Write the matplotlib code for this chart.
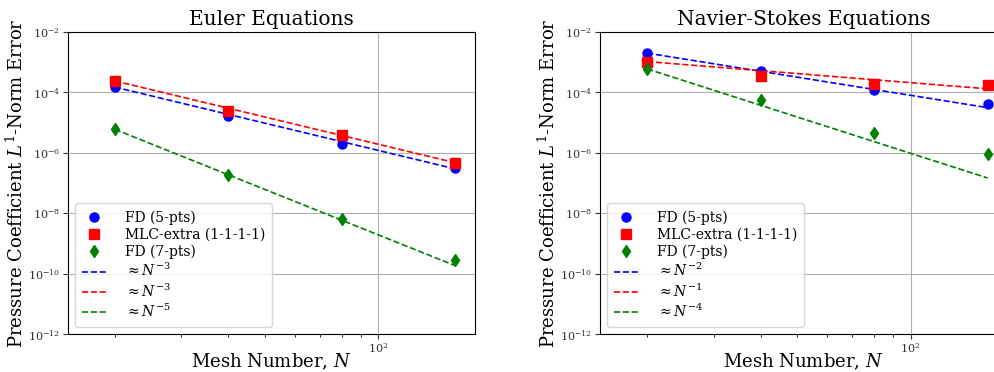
import numpy as np
import matplotlib
matplotlib.use("Agg")
import matplotlib.pyplot as plt
from matplotlib.ticker import NullLocator

plt.rcParams["font.family"] = "DejaVu Serif"
plt.rcParams["mathtext.fontset"] = "dejavuserif"

N = np.array([20, 40, 80, 160])

# Euler equations
eu_fd5 = [1.5e-4, 1.6e-5, 2.0e-6, 3.2e-7]
eu_mlc = [2.4e-4, 2.5e-5, 3.8e-6, 4.6e-7]
eu_fd7 = [6.0e-6, 1.9e-7, 6.5e-9, 2.8e-10]
eu_rates = [3, 3, 5]

# Navier-Stokes equations
ns_fd5 = [2.0e-3, 5.0e-4, 1.2e-4, 4.0e-5]
ns_mlc = [1.05e-3, 3.5e-4, 1.9e-4, 1.8e-4]
ns_fd7 = [6.0e-4, 5.5e-5, 4.5e-6, 9.0e-7]
ns_rates = [2, 1, 4]

titles = ["Euler Equations", "Navier-Stokes Equations"]
labels = ["FD (5-pts)", "MLC-extra (1-1-1-1)", "FD (7-pts)"]
colors = ["blue", "red", "green"]
markers = ["o", "s", "d"]


def panel(ax, series, rates, title):
    for y, c, m, lab in zip(series, colors, markers, labels):
        ax.plot(N, y, m, color=c, ms=6.5, label=lab, zorder=4)
    for y, c, p in zip(series, colors, rates):
        # reference slope anchored at the first data point
        ref = y[0] * (N / N[0]) ** (-float(p))
        ax.plot(N, ref, "--", color=c, lw=1.2, label=rf"$\approx N^{{-{p}}}$", zorder=3)
    ax.set_xscale("log")
    ax.set_yscale("log")
    ax.set_xlim(15, 180)
    ax.set_ylim(1e-12, 1e-2)
    ax.set_yticks([1e-12, 1e-10, 1e-8, 1e-6, 1e-4, 1e-2])
    ax.yaxis.set_minor_locator(NullLocator())
    ax.grid(True, which="major", color="#b0b0b0", lw=0.8)
    ax.tick_params(labelsize=8, colors="#333333", pad=2)
    ax.set_title(title, fontsize=14.5, pad=5)
    ax.set_xlabel(r"Mesh Number, $N$", fontsize=13, labelpad=-3)
    ax.set_ylabel(r"Pressure Coefficient $L^1$-Norm Error", fontsize=13, labelpad=1)
    ax.legend(loc="lower left", fontsize=10, numpoints=1, borderpad=0.5,
              labelspacing=0.22, handlelength=1.8, handletextpad=1.3,
              borderaxespad=0.5)


fig = plt.figure(figsize=(9.95, 3.72), dpi=100)
ax1 = fig.add_axes([0.068, 0.102, 0.409, 0.812])
ax2 = fig.add_axes([0.603, 0.102, 0.409, 0.812])
panel(ax1, [eu_fd5, eu_mlc, eu_fd7], eu_rates, titles[0])
panel(ax2, [ns_fd5, ns_mlc, ns_fd7], ns_rates, titles[1])
fig.savefig("out.png", dpi=100)
